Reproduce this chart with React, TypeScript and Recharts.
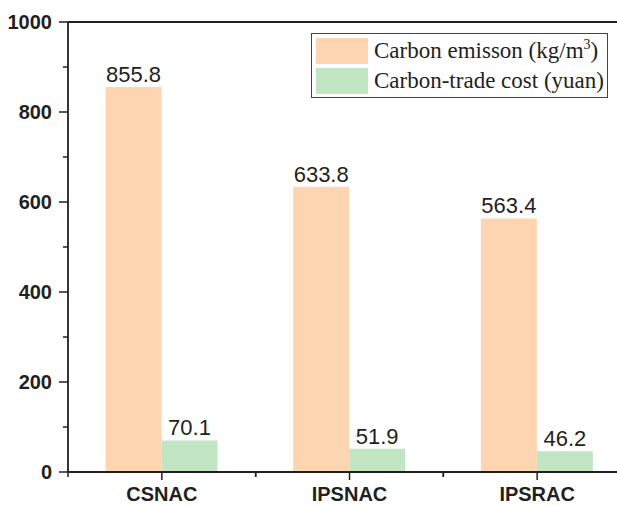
import { Bar, BarChart, LabelList, ReferenceLine, XAxis, YAxis } from 'recharts';

const categories = ['CSNAC', 'IPSNAC', 'IPSRAC'];
const emission = [855.8, 633.8, 563.4];
const tradeCost = [70.1, 51.9, 46.2];
const yTicks = [0, 100, 200, 300, 400, 500, 600, 700, 800, 900, 1000];

const data = categories.map((name, i) => ({ name, emission: emission[i], cost: tradeCost[i] }));

const ORANGE = '#fdd5b0';
const GREEN = '#c2e5c3';
const INK = '#231f20';

const YTick = (props: any) => {
  const { x, y, payload } = props;
  const major = payload.value % 200 === 0;
  return (
    <g>
      <line x1={x - (major ? 9 : 5)} x2={x} y1={y} y2={y} stroke={INK} strokeWidth={1.5} />
      {major && (
        <text x={x - 16} y={y} dy={7} textAnchor="end" fontFamily="Arial, 'Liberation Sans'" fontWeight="bold" fontSize={20} fill={INK}>
          {payload.value}
        </text>
      )}
    </g>
  );
};

const XTick = (props: any) => {
  const { x, y, payload } = props;
  const off = payload.offset ?? 93.5;
  return (
    <g>
      <line x1={x} x2={x} y1={y} y2={y + 8} stroke={INK} strokeWidth={1.5} />
      <line x1={x - off} x2={x - off} y1={y} y2={y + 5} stroke={INK} strokeWidth={1.5} />
      <line x1={x + off} x2={x + off} y1={y} y2={y + 5} stroke={INK} strokeWidth={1.5} />
      <text x={x} y={y + 29} textAnchor="middle" fontFamily="Arial, 'Liberation Sans'" fontWeight="bold" fontSize={20} fill={INK}>
        {payload.value}
      </text>
    </g>
  );
};

const LegendBox = () => (
  <div
    style={{
      position: 'absolute',
      left: 311,
      top: 33,
      width: 287,
      border: '1.5px solid #444',
      padding: '3px 4px',
      background: '#fff',
      fontFamily: "'Times New Roman', 'Liberation Serif', serif",
      fontSize: 23,
      color: INK,
      lineHeight: '26px',
    }}
  >
    <div style={{ display: 'flex', alignItems: 'center', height: 27, marginBottom: 3 }}>
      <span style={{ width: 52, height: 26, background: ORANGE, marginRight: 6, flexShrink: 0 }} />
      <span style={{ whiteSpace: 'nowrap' }}>
        Carbon emisson (kg/m<sup style={{ fontSize: 14, verticalAlign: 'top', lineHeight: '14px' }}>3</sup>)
      </span>
    </div>
    <div style={{ display: 'flex', alignItems: 'center', height: 27 }}>
      <span style={{ width: 52, height: 26, background: GREEN, marginRight: 6, flexShrink: 0 }} />
      <span style={{ whiteSpace: 'nowrap' }}>Carbon-trade cost (yuan)</span>
    </div>
  </div>
);

const valueLabel = (props: any) => {
  const { x, y, width, value } = props;
  return (
    <text x={x + width / 2} y={y - 5} textAnchor="middle" fontFamily="Arial, 'Liberation Sans'" fontSize={22} fill={INK}>
      {value}
    </text>
  );
};

export default function App() {
  return (
    <div style={{ position: 'absolute', left: 0, top: 0, width: 617, height: 506, overflow: 'hidden', background: '#fff' }}>
      <BarChart
        width={640}
        height={506}
        data={data}
        margin={{ top: 22, right: 9, left: 8, bottom: 0 }}
        barCategoryGap="20%"
        barGap={0}
      >
        <XAxis
          dataKey="name"
          height={34}
          tickLine={false}
          tickSize={0}
          tickMargin={0}
          axisLine={{ stroke: INK, strokeWidth: 1.8 }}
          tick={<XTick />}
          interval={0}
        />
        <YAxis
          width={60}
          domain={[0, 1000]}
          ticks={yTicks}
          interval={0}
          tickLine={false}
          tickSize={0}
          tickMargin={0}
          axisLine={{ stroke: INK, strokeWidth: 1.8 }}
          tick={<YTick />}
        />
        <ReferenceLine y={1000} stroke={INK} strokeWidth={1.8} />
        <Bar dataKey="emission" name="Carbon emisson" fill={ORANGE} isAnimationActive={false}>
          <LabelList dataKey="emission" content={valueLabel} />
        </Bar>
        <Bar dataKey="cost" name="Carbon-trade cost" fill={GREEN} isAnimationActive={false}>
          <LabelList dataKey="cost" content={valueLabel} />
        </Bar>
      </BarChart>
      <LegendBox />
    </div>
  );
}
